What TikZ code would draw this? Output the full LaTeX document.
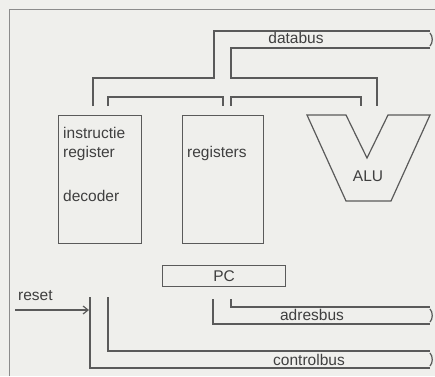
\documentclass[tikz,border=0pt]{standalone}
\usepackage{fontspec}
\setmainfont{Liberation Sans}
\usetikzlibrary{arrows.meta, positioning}

\definecolor{paper}{RGB}{239,239,236}
\definecolor{ink}{RGB}{90,90,90}

\begin{document}
\begin{tikzpicture}[
    x=1pt, y=-1pt,
    unit/.style={rectangle, draw=ink, line width=1.2pt, inner sep=0pt},
    bus/.style={draw=ink, line width=1.2pt},
    lbl/.style={inner sep=0pt, text=ink!70!black, font=\fontsize{15.5}{17}\selectfont},
    arr/.style={-{Straight Barb[length=5pt, width=8pt]}, line width=1.2pt, draw=ink},
]
    \fill[paper] (0,0) rectangle (435,376);
    \useasboundingbox (0,0) rectangle (435,376);
    \draw[bus, line width=0.8pt, draw=ink!70] (9,376) -- (9,9) -- (435,9);

    \node[unit, minimum width=83pt, minimum height=128pt, anchor=north west] (instr) at (58,115) {};
    \node[unit, minimum width=81pt, minimum height=128pt, anchor=north west] (regs)  at (182,115) {};
    \node[unit, minimum width=123pt, minimum height=21pt, anchor=north west] (pc)    at (162,265) {};
    \draw[bus] (307,115) -- (346,115) -- (367,158) -- (388,115) -- (430,115) -- (391,201) -- (346,201) -- cycle;

    \node[lbl, anchor=west] (t1) at (63,133) {instructie};
    \node[lbl, anchor=west] (t2) at (63,153) {register};
    \node[lbl, anchor=west] (t3) at (63,196) {decoder};
    \node[lbl, anchor=west] (t4) at (187,153) {registers};
    \node[lbl] (alu) at (368,176) {ALU};
    \node[lbl] at (pc) {PC};

    \coordinate (db1) at (430,31);
    \coordinate (db2) at (430,48);
    \coordinate (ab1) at (430,307);
    \coordinate (ab2) at (430,324);
    \coordinate (cb1) at (430,351);
    \coordinate (cb2) at (430,368);

    % databus
    \draw[bus] (93,106) -- (93,78) -- (214,78) -- (214,31) -- (db1);
    \draw[bus] (db2) -- (231,48) -- (231,78) -- (377,78) -- (377,106);
    \draw[bus] (108,106) -- (108,97) -- (223,97) -- (223,106);
    \draw[bus] (231,106) -- (231,97) -- (361,97) -- (361,106);
    \draw[bus] ([yshift=-2pt]db1) .. controls (433,36) and (433,43) .. ([yshift=2pt]db2);
    \node[lbl] (dbus) at (296,38) {databus};

    % adresbus
    \draw[bus] (213,299) -- (213,324) -- (ab2);
    \draw[bus] (231,299) -- (231,307) -- (ab1);
    \draw[bus] ([yshift=-2pt]ab1) .. controls (433,312) and (433,319) .. ([yshift=2pt]ab2);
    \node[lbl] (abus) at (312,315) {adresbus};

    % controlbus
    \draw[bus] (90,297) -- (90,368) -- (cb2);
    \draw[bus] (108,297) -- (108,351) -- (cb1);
    \draw[bus] ([yshift=-2pt]cb1) .. controls (433,356) and (433,363) .. ([yshift=2pt]cb2);
    \node[lbl] (cbus) at (309,360) {controlbus};

    \coordinate (rin) at (15,310);
    \coordinate (rout) at (89,310);
    \draw[arr] (rin) -- (rout);
    \node[lbl, anchor=west] (reset) at (18,296) {reset};
\end{tikzpicture}
\end{document}
